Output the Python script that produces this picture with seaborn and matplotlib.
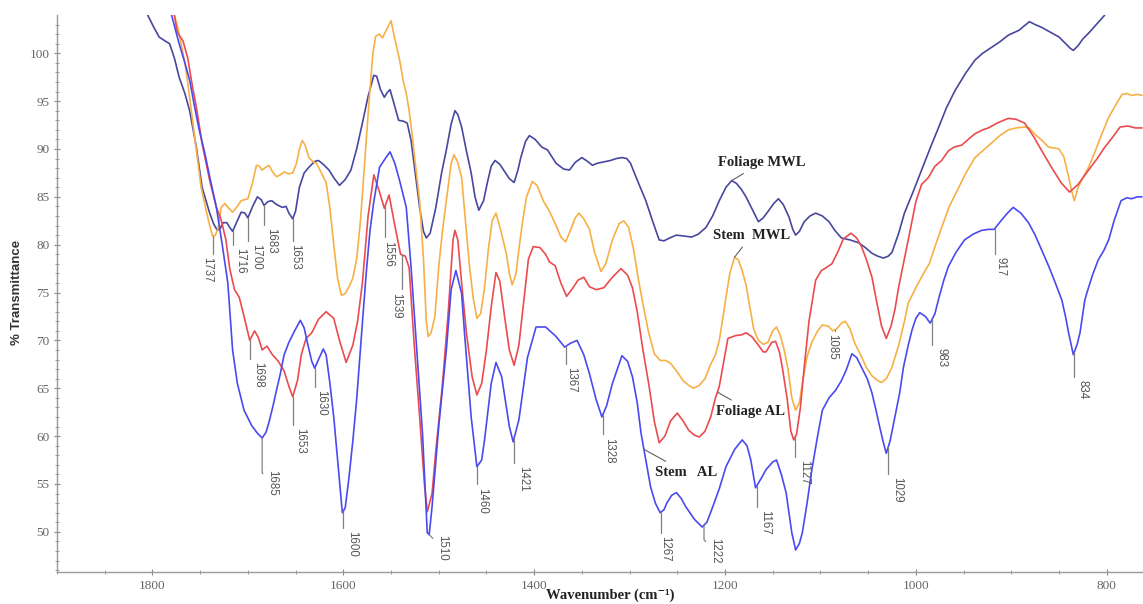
import numpy as np
import pandas as pd
import matplotlib
matplotlib.use("Agg")
import matplotlib.pyplot as plt
import seaborn as sns

# === DATA ===
# Foliage MWL (dark navy)
fmwl_wn = [1805, 1799, 1793, 1787, 1782, 1777, 1772, 1766, 1761, 1754, 1748, 1740, 1736, 1732, 1729, 1726,
           1722, 1719, 1716, 1712, 1707, 1703, 1700, 1695, 1690, 1686, 1683, 1679, 1675, 1670, 1664, 1660,
           1657, 1653, 1650, 1646, 1641, 1636, 1630, 1626, 1621, 1615, 1610, 1604, 1598, 1592, 1586, 1580,
           1574, 1568, 1565, 1561, 1557, 1554, 1551, 1547, 1542, 1537, 1533, 1529, 1524, 1520, 1516, 1513,
           1509, 1503, 1497, 1492, 1487, 1483, 1480, 1476, 1471, 1466, 1462, 1458, 1453, 1449, 1445, 1441,
           1436, 1432, 1426, 1421, 1417, 1414, 1409, 1405, 1399, 1392, 1386, 1377, 1369, 1363, 1357, 1350,
           1344, 1339, 1334, 1329, 1320, 1314, 1308, 1303, 1299, 1293, 1288, 1283, 1276, 1269, 1264, 1258,
           1251, 1243, 1235, 1228, 1220, 1213, 1206, 1199, 1193, 1188, 1183, 1178, 1171, 1165, 1160, 1154,
           1149, 1144, 1139, 1133, 1129, 1126, 1122, 1117, 1111, 1105, 1098, 1091, 1085, 1078, 1069, 1060,
           1053, 1046, 1040, 1034, 1029, 1025, 1018, 1012, 1003, 994, 985, 976, 968, 959, 948, 938,
           930, 921, 912, 903, 892, 886, 881, 875, 868, 859, 850, 843, 838, 835, 830, 825, 819, 811, 802]
fmwl_t = [104, 102.8, 101.7, 101.3, 101, 99.5, 97.5, 95.8, 94, 90.2, 86, 83.3, 82.2, 81.5, 81.7, 82.3,
          82.3, 81.8, 81.4, 82.3, 83.4, 83.3, 82.8, 84, 85, 84.7, 84.1, 84.5, 84.6, 84.2, 83.9, 84,
          83.3, 82.7, 83.5, 86, 87.5, 88.1, 88.7, 88.8, 88.4, 87.8, 87, 86.2, 86.8, 87.8, 90, 92.7,
          95.5, 97.7, 97.6, 96.2, 95.4, 95.9, 96.2, 94.8, 93, 92.9, 92.7, 90.9, 87, 83.9, 81.4, 80.7,
          81.2, 83.9, 87.5, 89.9, 92.6, 94, 93.6, 92.3, 89.8, 87.5, 85, 83.6, 84.6, 86.5, 88.2, 88.8,
          88.4, 87.8, 86.9, 86.5, 87.8, 89.1, 90.8, 91.4, 91, 90.2, 89.9, 88.5, 87.9, 87.8, 88.6, 89.1,
          88.7, 88.3, 88.5, 88.6, 88.8, 89, 89.1, 89, 88.5, 87, 85.8, 84.6, 82.5, 80.5, 80.4, 80.7,
          81, 80.9, 80.8, 81.1, 81.8, 83, 84.6, 86, 86.7, 86.4, 85.8, 85, 83.6, 82.4, 82.8, 83.6,
          84.3, 84.8, 84.2, 82.9, 81.6, 81, 81.4, 82.4, 83, 83.3, 83, 82.4, 81.5, 80.7, 80.5, 80.2,
          79.7, 79.1, 78.8, 78.6, 78.8, 79.2, 81.2, 83.3, 85.5, 87.8, 90.1, 92.3, 94.3, 96.1, 97.9, 99.3,
          100, 100.6, 101.2, 101.9, 102.4, 102.9, 103.3, 103, 102.7, 102.2, 101.7, 101, 100.5, 100.3, 100.8, 101.5, 102.1, 103, 104]

# Stem MWL (orange)
smwl_wn = [1777, 1773, 1770, 1766, 1763, 1758, 1753, 1749, 1743, 1740, 1737, 1734, 1731, 1728, 1724, 1720,
           1716, 1711, 1707, 1700, 1695, 1691, 1688, 1685, 1681, 1678, 1674, 1670, 1666, 1662, 1657, 1653,
           1649, 1646, 1643, 1640, 1636, 1632, 1628, 1623, 1618, 1614, 1610, 1606, 1602, 1598, 1594, 1590,
           1586, 1582, 1578, 1573, 1569, 1566, 1562, 1559, 1555, 1550, 1546, 1541, 1537, 1534, 1531, 1528,
           1524, 1520, 1516, 1513, 1511, 1508, 1504, 1500, 1496, 1492, 1487, 1484, 1480, 1476, 1472, 1468,
           1464, 1460, 1456, 1452, 1448, 1444, 1440, 1435, 1429, 1426, 1423, 1419, 1416, 1412, 1408, 1402,
           1397, 1390, 1384, 1377, 1372, 1367, 1362, 1357, 1353, 1348, 1342, 1337, 1330, 1325, 1318, 1311,
           1306, 1301, 1296, 1291, 1286, 1280, 1274, 1268, 1262, 1257, 1250, 1244, 1238, 1233, 1227, 1221,
           1215, 1210, 1206, 1202, 1199, 1195, 1190, 1186, 1182, 1178, 1174, 1170, 1165, 1160, 1155, 1150,
           1146, 1142, 1138, 1134, 1130, 1126, 1122, 1119, 1114, 1109, 1103, 1098, 1092, 1087, 1083, 1078,
           1074, 1069, 1064, 1058, 1052, 1046, 1040, 1036, 1031, 1025, 1018, 1012, 1008, 1000, 992, 986,
           980, 973, 965, 955, 947, 938, 930, 921, 912, 903, 895, 886, 881, 876, 869, 861,
           855, 850, 845, 840, 836, 834, 830, 825, 819, 812, 805, 798, 790, 784, 779, 774, 768, 763]
smwl_t = [104, 102.5, 101, 99, 96.9, 93, 89.1, 86, 83.3, 82, 80.9, 81, 81.8, 83.9, 84.3, 83.8,
          83.4, 84, 84.6, 84.8, 86.5, 88.3, 88.2, 87.8, 88.1, 88.3, 87.6, 87.1, 87.3, 87.6, 87.4, 87.5,
          88.5, 90, 90.9, 90.4, 89.1, 88.7, 88.5, 87.5, 86.5, 83.8, 80, 76.5, 74.7, 74.9, 75.6, 76.5,
          78.5, 82.5, 88, 95, 100, 101.8, 102, 101.6, 102.4, 103.4, 101.5, 99.3, 97, 95.8, 94, 91.6,
          88, 84.6, 78.5, 72, 70.4, 70.8, 72.5, 77.7, 81.5, 84.6, 88.5, 89.4, 88.6, 87, 82.5, 78,
          74.5, 72.3, 72.8, 75.5, 79.5, 82.5, 83.3, 81.5, 79, 77, 75.8, 77, 79.5, 82.5, 85, 86.6,
          86.2, 84.5, 83.5, 82, 80.8, 80.3, 81.5, 82.8, 83.3, 82.7, 81.6, 79.3, 77.2, 78, 80.5, 82.2,
          82.5, 81.8, 79.6, 76.5, 73.8, 70.8, 68.6, 67.9, 67.9, 67.6, 66.7, 65.8, 65.3, 65, 65.3, 66,
          67.5, 68.5, 70, 72.5, 74.5, 77, 78.7, 78.4, 77.3, 75.8, 73.5, 71.2, 70, 69.6, 69.8, 71,
          71.4, 70.5, 69, 67, 64, 62.7, 63.5, 65.5, 68.3, 69.8, 71, 71.6, 71.5, 71, 71.2, 71.8,
          72, 71.2, 69.7, 68.5, 67.2, 66.3, 65.8, 65.6, 66, 67.2, 69.5, 72, 73.9, 75.5, 77, 78,
          79.8, 81.8, 84, 86, 87.6, 89.1, 89.8, 90.6, 91.4, 92, 92.2, 92.3, 92.2, 91.6, 91, 90.2,
          90.1, 90, 89.2, 87.1, 85.3, 84.6, 86, 87, 88.1, 89.8, 91.6, 93.3, 94.7, 95.7, 95.8, 95.6, 95.7, 95.6]

# Foliage AL (red)
fal_wn = [1777, 1774, 1768, 1763, 1758, 1754, 1748, 1740, 1733, 1728, 1723, 1719, 1714, 1709, 1704, 1698,
          1693, 1689, 1685, 1680, 1675, 1668, 1662, 1657, 1653, 1648, 1644, 1639, 1633, 1626, 1618, 1610,
          1604, 1597, 1590, 1585, 1580, 1574, 1568, 1562, 1557, 1552, 1546, 1540, 1535, 1531, 1526, 1520,
          1515, 1512, 1507, 1503, 1496, 1490, 1485, 1483, 1480, 1476, 1471, 1465, 1460, 1455, 1450, 1445,
          1440, 1436, 1431, 1426, 1421, 1416, 1411, 1406, 1401, 1394, 1388, 1384, 1378, 1372, 1366, 1360,
          1354, 1348, 1342, 1335, 1327, 1318, 1309, 1302, 1297, 1292, 1286, 1280, 1274, 1269, 1263, 1257,
          1250, 1244, 1238, 1232, 1227, 1221, 1215, 1210, 1206, 1201, 1197, 1189, 1182, 1178, 1172, 1165,
          1160, 1157, 1151, 1147, 1143, 1140, 1135, 1131, 1128, 1125, 1121, 1117, 1112, 1105, 1099, 1094,
          1088, 1082, 1076, 1068, 1062, 1057, 1052, 1046, 1041, 1036, 1031, 1026, 1022, 1018, 1008, 1000,
          994, 987, 980, 973, 966, 960, 952, 944, 938, 930, 924, 915, 908, 903, 895, 886,
          876, 868, 858, 848, 839, 830, 819, 810, 802, 794, 786, 778, 770, 763]
fal_t = [104, 102.2, 101.3, 99.5, 96.5, 94.4, 90.6, 86.7, 83.9, 82.6, 80.5, 77.5, 75.3, 74.5, 72.5, 70,
         71, 70.3, 69, 69.4, 68.6, 67.8, 66.8, 65.2, 64.1, 65.8, 68.5, 70.2, 70.8, 72.2, 73, 72.3,
         70, 67.7, 69.5, 72, 76, 83, 87.3, 85.5, 83.8, 85.2, 82, 79, 78.8, 77.6, 70, 62,
         55, 52.1, 54, 58.5, 65.5, 73, 80.5, 81.5, 80.5, 76, 70.8, 66.2, 64.3, 65.5, 69, 73.5,
         77.1, 76.2, 72.5, 69, 67.4, 69.5, 74, 78.5, 79.8, 79.7, 79, 78.2, 77.8, 76, 74.6, 75.4,
         76.3, 76.6, 75.6, 75.3, 75.5, 76.6, 77.5, 76.8, 75.5, 73, 69, 65.5, 61.5, 59.3, 60, 61.6,
         62.4, 61.6, 60.6, 60.1, 59.9, 60.5, 62, 64, 65.2, 68, 70.2, 70.5, 70.6, 70.8, 70.4, 69.5,
         68.8, 68.8, 69.8, 69.9, 68.8, 67.2, 64, 60.5, 59.6, 60.2, 63, 67.2, 72, 76.3, 77.3, 77.6,
         78, 79.2, 80.6, 81.2, 80.7, 79.8, 78.5, 76.6, 74, 71.5, 70.2, 71.5, 73.2, 75.6, 80.5, 84.5,
         86.3, 87, 88.2, 88.8, 89.8, 90.2, 90.4, 91.1, 91.6, 92, 92.2, 92.7, 93, 93.2, 93.1, 92.7,
         91.2, 89.8, 88.1, 86.5, 85.5, 86.3, 87.8, 89, 90.2, 91.2, 92.3, 92.4, 92.2, 92.2]

# Stem AL (blue)
sal_wn = [1780, 1772, 1766, 1761, 1756, 1751, 1745, 1740, 1733, 1727, 1721, 1716, 1711, 1704, 1696, 1690,
          1685, 1681, 1678, 1674, 1670, 1666, 1662, 1657, 1651, 1645, 1641, 1637, 1633, 1630, 1626, 1621,
          1618, 1614, 1610, 1606, 1601, 1598, 1594, 1590, 1586, 1580, 1576, 1572, 1568, 1562, 1556, 1551,
          1546, 1541, 1534, 1529, 1523, 1517, 1512, 1510, 1507, 1500, 1492, 1487, 1482, 1476, 1473, 1466,
          1460, 1455, 1452, 1445, 1440, 1434, 1426, 1422, 1416, 1407, 1398, 1388, 1377, 1368, 1362, 1355,
          1348, 1342, 1335, 1329, 1324, 1318, 1308, 1302, 1297, 1292, 1288, 1283, 1278, 1273, 1268, 1264,
          1261, 1256, 1251, 1246, 1241, 1232, 1224, 1219, 1214, 1206, 1199, 1190, 1182, 1177, 1173, 1168,
          1162, 1157, 1150, 1146, 1141, 1136, 1130, 1126, 1122, 1119, 1114, 1109, 1103, 1098, 1091, 1084,
          1078, 1073, 1067, 1062, 1057, 1051, 1046, 1042, 1038, 1034, 1031, 1027, 1022, 1017, 1013, 1008,
          1004, 1000, 996, 990, 985, 980, 976, 971, 966, 958, 949, 940, 931, 924, 918, 914,
          910, 904, 898, 890, 882, 875, 868, 861, 855, 847, 843, 840, 835, 831, 828, 823,
          821, 815, 809, 803, 798, 792, 785, 779, 774, 768, 763]
sal_t = [104, 101, 99, 97.2, 94.5, 92, 89.5, 87.1, 83.9, 80.1, 76, 69, 65.5, 62.7, 61.1, 60.3,
         59.8, 60.4, 61.4, 63, 64.8, 66.5, 68.5, 69.8, 71, 72.1, 71.3, 69.5, 67.8, 67.1, 68, 69.1,
         68.5, 65.5, 62, 57.5, 52, 52.5, 55.7, 59.5, 63.8, 71.8, 77, 81.5, 84.5, 88.1, 89, 89.7,
         88.5, 86.7, 83.9, 77.7, 69, 60.3, 49.9, 49.7, 52.6, 61, 69, 75.3, 77.3, 74.9, 70.8, 62,
         56.8, 57.5, 59.6, 65.5, 67.7, 66.2, 61, 59.4, 61.7, 68.2, 71.4, 71.4, 70.4, 69.3, 69.7, 70,
         68.5, 66.5, 63.8, 62, 63.2, 65.5, 68.4, 67.8, 66.2, 63.5, 60.3, 57.5, 54.7, 53, 52, 52.3,
         53, 53.8, 54.1, 53.5, 52.6, 51.3, 50.5, 51, 52.3, 54.5, 56.8, 58.6, 59.6, 59, 57.5, 54.6,
         55.6, 56.5, 57.3, 57.5, 56, 54.1, 49.9, 48.1, 48.8, 49.9, 53, 56.5, 60, 62.7, 64, 64.8,
         65.8, 66.9, 68.6, 68.2, 67.2, 66, 64.5, 62.8, 61, 59.3, 58.2, 59.5, 62, 64.5, 67.2, 69.5,
         71.1, 72.3, 72.9, 72.5, 71.8, 72.8, 74.4, 76.2, 77.7, 79.2, 80.5, 81.1, 81.5, 81.6, 81.6, 82.1,
         82.6, 83.3, 83.9, 83.3, 82.3, 81, 79.4, 77.8, 76.3, 74.2, 72.4, 70.8, 68.5, 69.6, 70.8, 74.2,
         74.9, 76.8, 78.4, 79.4, 80.5, 82.6, 84.6, 84.9, 84.8, 85, 85]

series_names = ["Foliage MWL", "Stem MWL", "Foliage AL", "Stem AL"]
series_colors = ["#47479f", "#f6b045", "#ea4b4f", "#4a4af0"]

# peak labels: (text, series)
peak_labels = ["1737", "1716", "1700", "1683", "1653", "1698", "1685", "1653", "1630", "1600",
               "1556", "1539", "1510", "1460", "1421", "1367", "1328", "1267", "1222", "1167",
               "1127", "1085", "1029", "983", "917", "834"]
peak_series = ["Stem MWL", "Foliage MWL", "Foliage MWL", "Foliage MWL", "Foliage MWL", "Foliage AL",
               "Stem AL", "Foliage AL", "Stem AL", "Stem AL", "Foliage AL", "Foliage AL", "Stem AL",
               "Stem AL", "Stem AL", "Stem AL", "Stem AL", "Stem AL", "Stem AL", "Stem AL",
               "Foliage AL", "Stem MWL", "Stem AL", "Stem AL", "Stem AL", "Stem AL"]
# leader offsets in pixels (dx right, dy down) -- layout only
peak_dx = [-5, 8, 8, 7, 2, 8, 10, 7, 7, 9, 3, -5, 13, 5, 9, 6, 6, 4, 11, 9, 9, -3, 9, 9, 5, 8]
peak_dy = [21, 17, 26, 23, 25, 22, 32, 31, 22, 20, 35, 38, 0, 21, 28, 21, 23, 24, 13, 24, 22, 4, 30, 29, 29, 28]

# === DATAFRAME ===
frames = []
for name, wn, t in zip(series_names,
                       [fmwl_wn, smwl_wn, fal_wn, sal_wn],
                       [fmwl_t, smwl_t, fal_t, sal_t]):
    frames.append(pd.DataFrame({"wn": wn, "T": t, "sample": name}))
df = pd.concat(frames, ignore_index=True)

# === PLOT ===
sns.set_style("ticks")
fig = plt.figure(figsize=(11.43, 6.04), dpi=100)
ax = fig.add_axes([57 / 1143, 1 - 572 / 604, 1086 / 1143, 557 / 604])

sns.lineplot(data=df, x="wn", y="T", hue="sample", hue_order=series_names,
             palette=series_colors, estimator=None, sort=True, lw=1.2,
             legend=False, ax=ax)

ax.set_xlim(1900, 762)
ax.set_ylim(45.8, 104)
ax.set_xticks(range(800, 1801, 200))
ax.set_xticks(range(800, 1901, 50), minor=True)
ax.set_yticks(range(50, 101, 5))
ax.set_yticks(range(46, 104, 1), minor=True)
ax.set_xlabel("")
ax.set_ylabel("")
for lab in ax.get_xticklabels() + ax.get_yticklabels():
    lab.set_fontfamily("Liberation Serif")
    lab.set_fontsize(9.5)
    lab.set_color("#666666")
ax.tick_params(which="major", direction="inout", length=5, width=0.8, color="#888888", pad=3)
ax.tick_params(which="minor", direction="inout", length=2.5, width=0.7, color="#999999")
sns.despine(ax=ax)
for s in ["left", "bottom"]:
    ax.spines[s].set_color("#999999")
    ax.spines[s].set_linewidth(1.0)

# peak annotations
curves = dict(zip(series_names, zip([fmwl_wn, smwl_wn, fal_wn, sal_wn],
                                    [fmwl_t, smwl_t, fal_t, sal_t])))
for text, ser, dx, dy in zip(peak_labels, peak_series, peak_dx, peak_dy):
    wn, t = curves[ser]
    x = float(text)
    y = np.interp(x, wn[::-1], t[::-1])
    if dx < -1:
        cs = "angle,angleA=45,angleB=90,rad=0"
    elif dx > 1 and dy > abs(dx):
        cs = "angle,angleA=135,angleB=90,rad=0"
    else:
        cs = "arc3"
    ax.annotate(text, xy=(x, y), xytext=(dx * 0.72, -dy * 0.72), textcoords="offset points",
                rotation=270, ha="center", va="top", fontsize=8.3, color="#555555",
                fontfamily="Liberation Sans",
                arrowprops=dict(arrowstyle="-", color="#808080", lw=0.9,
                                shrinkA=0, shrinkB=0, connectionstyle=cs))

# curve name labels
name_font = dict(fontfamily="Liberation Serif", fontweight="bold", fontsize=10.5, color="#222222")
ax.annotate("Foliage MWL", xy=(1193, np.interp(1193, fmwl_wn[::-1], fmwl_t[::-1])),
            xytext=(1161, 88.6), ha="center", va="center",
            arrowprops=dict(arrowstyle="-", color="#606060", lw=0.8, shrinkA=2, shrinkB=0), **name_font)
ax.annotate("Stem  MWL", xy=(1190, np.interp(1190, smwl_wn[::-1], smwl_t[::-1])),
            xytext=(1172, 81.0), ha="center", va="center",
            arrowprops=dict(arrowstyle="-", color="#606060", lw=0.8, shrinkA=2, shrinkB=0), **name_font)
ax.annotate("Foliage AL", xy=(1208, np.interp(1208, fal_wn[::-1], fal_t[::-1])),
            xytext=(1173, 62.6), ha="center", va="center",
            arrowprops=dict(arrowstyle="-", color="#606060", lw=0.8, shrinkA=2, shrinkB=0), **name_font)
ax.annotate("Stem   AL", xy=(1285, np.interp(1285, sal_wn[::-1], sal_t[::-1])),
            xytext=(1241, 56.2), ha="center", va="center",
            arrowprops=dict(arrowstyle="-", color="#606060", lw=0.8, shrinkA=2, shrinkB=0), **name_font)

fig.text(610 / 1143, 1 - 595 / 604, "Wavenumber (cm⁻¹)", ha="center", va="center",
         fontsize=10.5, fontweight="bold", family=["Liberation Serif", "DejaVu Serif"], color="#222222")
fig.text(17 / 1143, 1 - 292 / 604, "% Transmittance", ha="center", va="center", rotation=90,
         fontsize=9.5, fontweight="bold", family=["Liberation Sans", "DejaVu Sans"], color="#333333")

fig.savefig("out.png", dpi=100)
plt.close(fig)
